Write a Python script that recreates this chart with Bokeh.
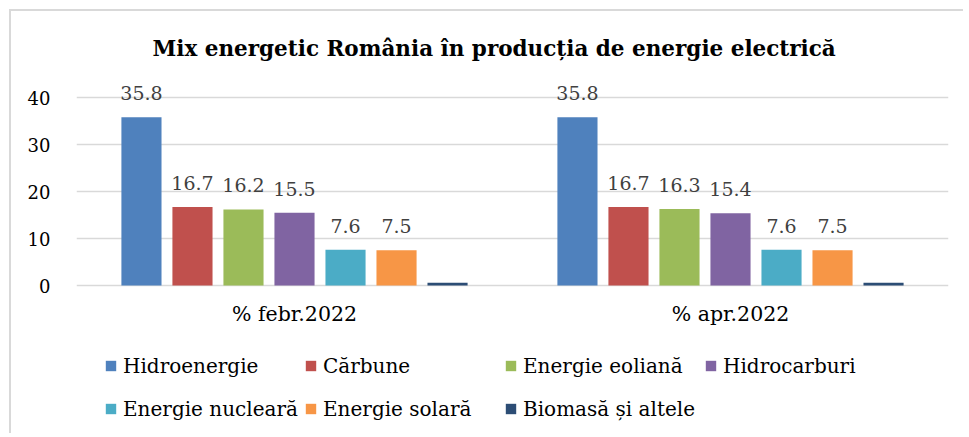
from bokeh.plotting import figure
from bokeh.models import (FactorRange, ColumnDataSource, FixedTicker, Legend,
                          LegendItem, Range1d)
from bokeh.transform import dodge
from bokeh.core.properties import value
from bokeh.embed import file_html
from bokeh.resources import INLINE

# ---- data ----
periods = ["% febr.2022", "% apr.2022"]
series_names = ["Hidroenergie", "Cărbune", "Energie eoliană", "Hidrocarburi",
                "Energie nucleară", "Energie solară", "Biomasă și altele"]
hidroenergie = [35.8, 35.8]
carbune = [16.7, 16.7]
energie_eoliana = [16.2, 16.3]
hidrocarburi = [15.5, 15.4]
energie_nucleara = [7.6, 7.6]
energie_solara = [7.5, 7.5]
biomasa = [0.6, 0.6]
series_values = [hidroenergie, carbune, energie_eoliana, hidrocarburi,
                 energie_nucleara, energie_solara, biomasa]
show_label = [True, True, True, True, True, True, False]
y_ticks = [0, 10, 20, 30, 40]
title_text = "Mix energetic România în producția de energie electrică"

colors = ["#4F81BD", "#C0504D", "#9BBB59", "#8064A2", "#4BACC6", "#F79646", "#2C4D75"]
FONT = "DejaVu Serif"

# frame spans page y 81..430; zero line lands at ~284, the area below holds
# the category labels and the legend
p = figure(x_range=FactorRange(factors=periods), y_range=Range1d(-30.86, 43),
           width=954, height=424, output_backend="svg", toolbar_location=None,
           min_border_left=65, min_border_right=17, min_border_top=70,
           min_border_bottom=5, title=title_text)
p.styles = {"margin-left": "9px", "margin-top": "9px",
            "border-left": "2px solid #d9d9d9", "border-top": "2px solid #d9d9d9"}

p.outline_line_color = None
p.title.text_font = FONT
p.title.text_font_size = "21.5px"
p.title.text_font_style = "bold"
p.title.text_color = "#000000"
p.title.align = "left"
p.title.offset = 76
p.title.standoff = 45

step = 0.117
width = 0.092
items = []
for i, (name, vals, col) in enumerate(zip(series_names, series_values, colors)):
    off = (i - 3) * step
    src = ColumnDataSource(dict(x=periods, top=vals,
                                lbl=[f"{v:.1f}" for v in vals]))
    r = p.vbar(x=dodge("x", off, range=p.x_range), top="top", width=width,
               source=src, fill_color=col, line_color=None)
    items.append(LegendItem(label=name, renderers=[r]))
    if show_label[i]:
        p.text(x=dodge("x", off, range=p.x_range), y="top", text="lbl", source=src,
               text_font=value(FONT), text_font_size="19px", text_color="#404040",
               text_align="center", text_baseline="alphabetic", y_offset=-24)

# category labels under the zero line
cat_src = ColumnDataSource(dict(x=periods, y=[0] * len(periods), t=periods))
p.text(x="x", y="y", text="t", source=cat_src, text_font=value(FONT),
       text_font_size="20.5px", text_color="#000000", text_align="center",
       text_baseline="middle", y_offset=28)

# axes
p.xaxis.visible = False
p.yaxis.ticker = FixedTicker(ticks=y_ticks)
p.ygrid.ticker = FixedTicker(ticks=y_ticks)
p.yaxis.axis_line_color = None
p.yaxis.major_tick_line_color = None
p.yaxis.minor_tick_line_color = None
p.yaxis.major_label_standoff = 20
p.yaxis.major_label_text_font = FONT
p.yaxis.major_label_text_font_size = "18px"
p.yaxis.major_label_text_color = "#000000"

p.xgrid.grid_line_color = None
p.ygrid.grid_line_color = "#d9d9d9"
p.ygrid.grid_line_width = 1.5

legend = Legend(items=items, orientation="horizontal", ncols=4, location=(28, 3),
                padding=3, margin=0,
                spacing=6, glyph_width=13, glyph_height=13, label_standoff=6,
                label_height=37, label_width=175, border_line_color=None,
                background_fill_alpha=0,
                label_text_font=FONT, label_text_font_size="20px",
                label_text_color="#000000")
p.add_layout(legend, "center")

open("out.html", "w").write(file_html(p, INLINE))
